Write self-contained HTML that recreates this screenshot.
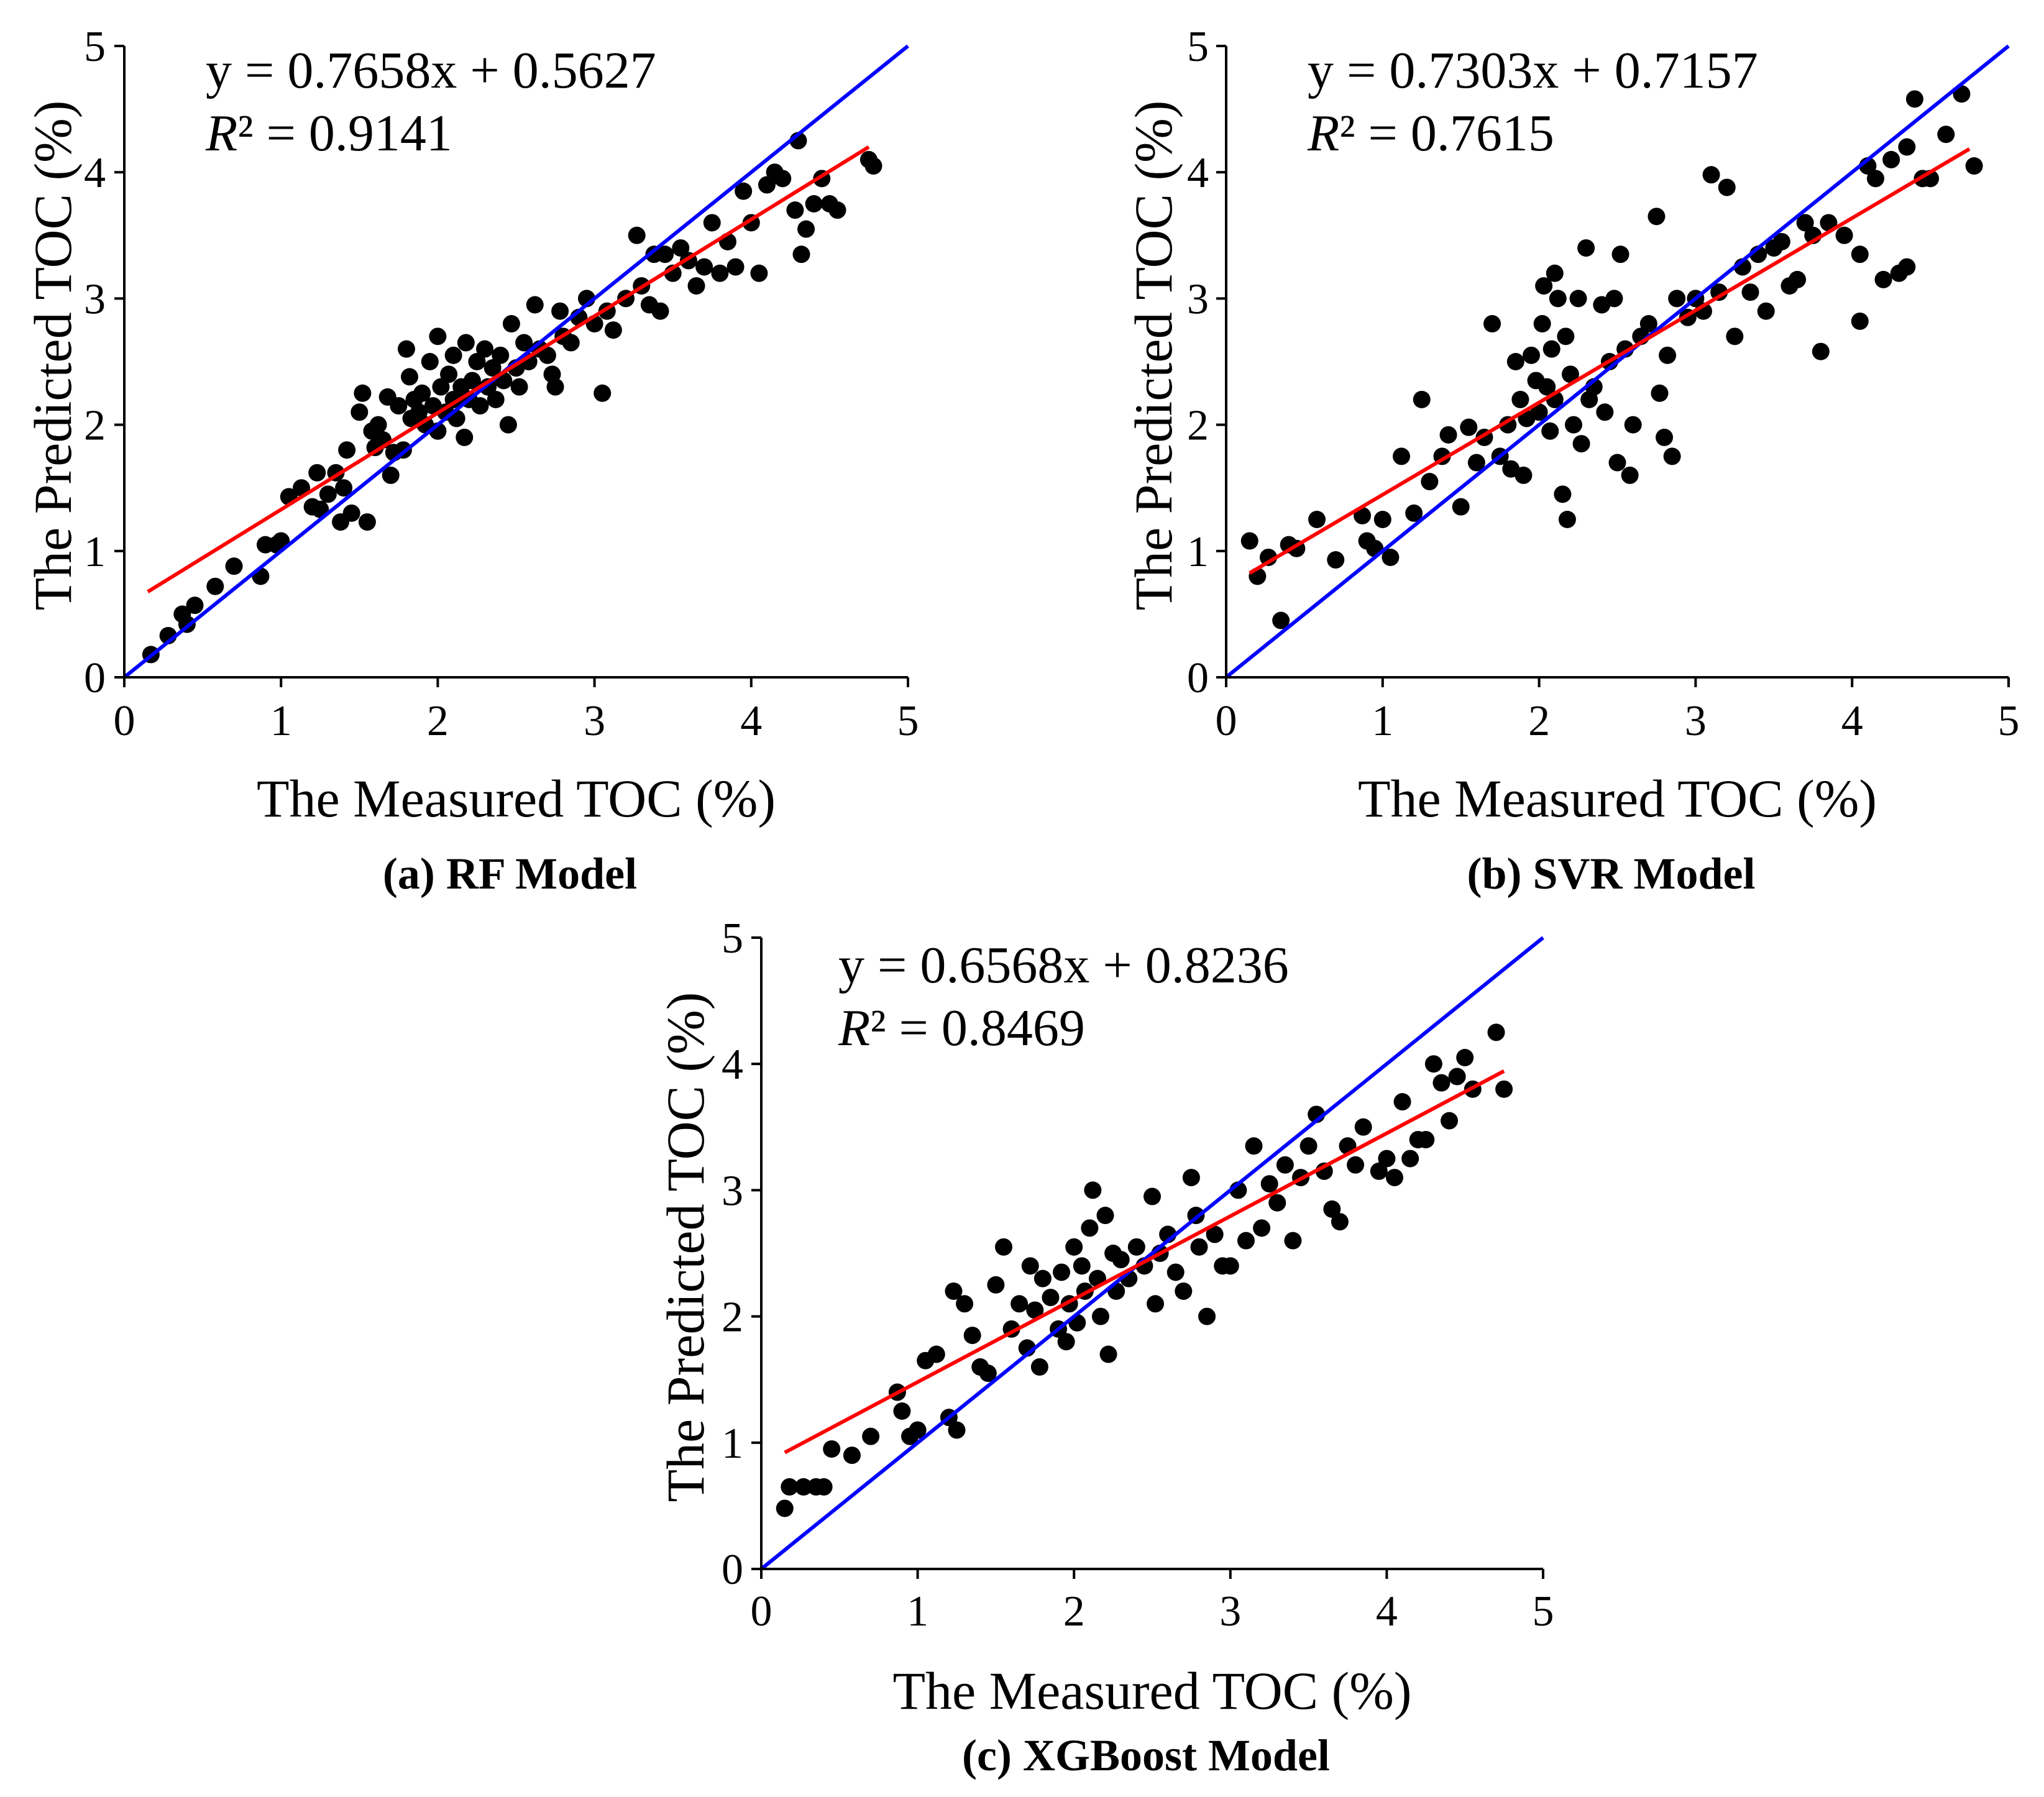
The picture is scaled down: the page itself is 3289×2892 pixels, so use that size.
<!DOCTYPE html>
<html><head><meta charset="utf-8">
<style>
html,body{margin:0;padding:0;background:#fff;}
svg{display:block;font-family:"Liberation Serif",serif;}
</style></head>
<body>
<svg id="fig" width="3289" height="2892" viewBox="0 0 3289 2892" xmlns="http://www.w3.org/2000/svg"></svg>
<script>
const ticks = [0,1,2,3,4,5];
const tickLabels = ["0","1","2","3","4","5"];
const panelIds = ["a","b","c"];
const captions = ["(a) RF Model","(b) SVR Model","(c) XGBoost Model"];
const equations = ["y = 0.7658x + 0.5627","y = 0.7303x + 0.7157","y = 0.6568x + 0.8236"];
const r2Values = ["0.9141","0.7615","0.8469"];
const slopes = [0.7658,0.7303,0.6568];
const intercepts = [0.5627,0.7157,0.8236];
const fitRange = [0.15,4.75];
const rfMeasured = [0.17,0.28,0.37,0.4,0.45,0.58,0.7,0.87,0.9,0.97,1.0,1.05,1.13,1.2,1.23,1.25,1.3,1.35,1.38,1.4,1.42,1.45,1.5,1.52,1.55,1.58,1.6,1.62,1.65,1.68,1.7,1.72,1.75,1.78,1.8,1.82,1.83,1.85,1.88,1.9,1.92,1.95,1.97,2.0,2.0,2.02,2.05,2.07,2.1,2.1,2.12,2.15,2.17,2.18,2.2,2.22,2.25,2.27,2.3,2.32,2.35,2.37,2.4,2.42,2.45,2.47,2.5,2.52,2.55,2.58,2.62,2.65,2.7,2.73,2.75,2.78,2.8,2.85,2.9,2.95,3.0,3.05,3.08,3.12,3.2,3.27,3.3,3.35,3.38,3.42,3.45,3.5,3.55,3.6,3.65,3.7,3.75,3.8,3.85,3.9,3.95,4.0,4.05,4.1,4.15,4.2,4.28,4.3,4.32,4.35,4.4,4.45,4.5,4.55,4.75,4.78];
const rfPredicted = [0.18,0.33,0.5,0.42,0.57,0.72,0.88,0.8,1.05,1.05,1.08,1.43,1.5,1.35,1.62,1.33,1.45,1.62,1.23,1.5,1.8,1.3,2.1,2.25,1.23,1.95,1.82,2.0,1.88,2.22,1.6,1.78,2.15,1.8,2.6,2.38,2.05,2.2,2.1,2.25,2.0,2.5,2.15,2.7,1.95,2.3,2.1,2.4,2.55,2.2,2.05,2.3,1.9,2.65,2.2,2.35,2.5,2.15,2.6,2.3,2.45,2.2,2.55,2.35,2.0,2.8,2.45,2.3,2.65,2.5,2.95,2.6,2.55,2.4,2.3,2.9,2.7,2.65,2.85,3.0,2.8,2.25,2.9,2.75,3.0,3.5,3.1,2.95,3.35,2.9,3.35,3.2,3.4,3.3,3.1,3.25,3.6,3.2,3.45,3.25,3.85,3.6,3.2,3.9,4.0,3.95,3.7,4.25,3.35,3.55,3.75,3.95,3.75,3.7,4.1,4.05];
const svrMeasured = [0.15,0.2,0.27,0.35,0.4,0.45,0.58,0.7,0.87,0.9,0.95,1.0,1.05,1.12,1.2,1.25,1.3,1.38,1.42,1.5,1.55,1.6,1.65,1.7,1.75,1.8,1.82,1.85,1.88,1.9,1.92,1.95,1.98,2.0,2.02,2.03,2.05,2.07,2.08,2.1,2.1,2.12,2.15,2.17,2.18,2.2,2.22,2.25,2.27,2.3,2.32,2.35,2.4,2.42,2.45,2.48,2.5,2.52,2.55,2.58,2.6,2.65,2.7,2.75,2.77,2.8,2.82,2.85,2.88,2.95,3.0,3.05,3.1,3.15,3.2,3.25,3.3,3.35,3.4,3.45,3.5,3.55,3.6,3.65,3.7,3.75,3.8,3.85,3.95,4.05,4.05,4.1,4.15,4.2,4.25,4.3,4.35,4.35,4.4,4.45,4.5,4.6,4.7,4.78];
const svrPredicted = [1.08,0.8,0.95,0.45,1.05,1.02,1.25,0.93,1.28,1.08,1.02,1.25,0.95,1.75,1.3,2.2,1.55,1.75,1.92,1.35,1.98,1.7,1.9,2.8,1.75,2.0,1.65,2.5,2.2,1.6,2.05,2.55,2.35,2.1,2.8,3.1,2.3,1.95,2.6,3.2,2.2,3.0,1.45,2.7,1.25,2.4,2.0,3.0,1.85,3.4,2.2,2.3,2.95,2.1,2.5,3.0,1.7,3.35,2.6,1.6,2.0,2.7,2.8,3.65,2.25,1.9,2.55,1.75,3.0,2.85,3.0,2.9,3.98,3.05,3.88,2.7,3.25,3.05,3.35,2.9,3.4,3.45,3.1,3.15,3.6,3.5,2.58,3.6,3.5,2.82,3.35,4.05,3.95,3.15,4.1,3.2,3.25,4.2,4.58,3.95,3.95,4.3,4.62,4.05];
const xgbMeasured = [0.15,0.18,0.27,0.35,0.4,0.45,0.58,0.7,0.87,0.9,0.95,1.0,1.05,1.12,1.2,1.23,1.25,1.3,1.35,1.4,1.45,1.5,1.55,1.6,1.65,1.7,1.72,1.75,1.78,1.8,1.85,1.9,1.92,1.95,1.97,2.0,2.02,2.05,2.07,2.1,2.12,2.15,2.17,2.2,2.22,2.25,2.27,2.3,2.35,2.4,2.45,2.5,2.52,2.55,2.6,2.65,2.7,2.75,2.78,2.8,2.85,2.9,2.95,3.0,3.05,3.1,3.15,3.2,3.25,3.3,3.35,3.4,3.45,3.5,3.55,3.6,3.65,3.7,3.75,3.8,3.85,3.95,4.0,4.05,4.1,4.15,4.2,4.25,4.3,4.35,4.4,4.45,4.5,4.55,4.7,4.75];
const xgbPredicted = [0.48,0.65,0.65,0.65,0.65,0.95,0.9,1.05,1.4,1.25,1.05,1.1,1.65,1.7,1.2,2.2,1.1,2.1,1.85,1.6,1.55,2.25,2.55,1.9,2.1,1.75,2.4,2.05,1.6,2.3,2.15,1.9,2.35,1.8,2.1,2.55,1.95,2.4,2.2,2.7,3.0,2.3,2.0,2.8,1.7,2.5,2.2,2.45,2.3,2.55,2.4,2.95,2.1,2.5,2.65,2.35,2.2,3.1,2.8,2.55,2.0,2.65,2.4,2.4,3.0,2.6,3.35,2.7,3.05,2.9,3.2,2.6,3.1,3.35,3.6,3.15,2.85,2.75,3.35,3.2,3.5,3.15,3.25,3.1,3.7,3.25,3.4,3.4,4.0,3.85,3.55,3.9,4.05,3.8,4.25,3.8];
const measuredSets = [rfMeasured, svrMeasured, xgbMeasured];
const predictedSets = [rfPredicted, svrPredicted, xgbPredicted];

const NS = "http://www.w3.org/2000/svg";
const svg = document.getElementById("fig");
const layouts = [
  {x0:200,x1:1461,y0:1090,y1:74, ytl:170, ytitle:84, xtick:1183, xtitle:1314, cap:1430, eqx:331, eqy:141, r2y:242},
  {x0:1973,x1:3232,y0:1090,y1:74, ytl:1945, ytitle:1855, xtick:1183, xtitle:1314, cap:1430, eqx:2104, eqy:141, r2y:242},
  {x0:1225,x1:2483,y0:2525,y1:1509, ytl:1196, ytitle:1102, xtick:2616, xtitle:2750, cap:2849, eqx:1349, eqy:1581, r2y:1682}
];
function mk(tag, attrs, parent){
  const e = document.createElementNS(NS, tag);
  for (const k in attrs) e.setAttribute(k, attrs[k]);
  parent.appendChild(e);
  return e;
}
panelIds.forEach((pid, i) => {
  const L = layouts[i];
  const sx = v => L.x0 + (L.x1 - L.x0) * v / 5;
  const sy = v => L.y0 + (L.y1 - L.y0) * v / 5;
  const g = mk("g", {}, svg);
  
  
  const pg = mk("g", {fill:"#000"}, g);
  
  
  const xs = measuredSets[i], ys = predictedSets[i];
  for (let k = 0; k < xs.length; k++) {
    const c = mk("circle", {cx:sx(xs[k]), cy:sy(ys[k]), r:14}, pg);
    
    
  }
  const ref = mk("line", {x1:sx(0), y1:sy(0), x2:sx(5), y2:sy(5), stroke:"#0000ff", "stroke-width":6}, g);
  
  
  const fa = fitRange[0], fb = fitRange[1];
  const fit = mk("line", {x1:sx(fa), y1:sy(slopes[i]*fa+intercepts[i]), x2:sx(fb), y2:sy(slopes[i]*fb+intercepts[i]), stroke:"#ff0000", "stroke-width":6}, g);
  
  
  const ax = mk("path", {d:`M${L.x0} ${L.y1} V${L.y0} H${L.x1}`, fill:"none", stroke:"#000", "stroke-width":4}, g);
  
  
  ticks.forEach((t, j) => {
    const tx = mk("line", {x1:sx(t), y1:L.y0, x2:sx(t), y2:L.y0+16, stroke:"#000", "stroke-width":4}, g);
    
    
    const ty = mk("line", {x1:L.x0-16, y1:sy(t), x2:L.x0, y2:sy(t), stroke:"#000", "stroke-width":4}, g);
    
    
    const xl = mk("text", {x:sx(t), y:L.xtick, "font-size":70, "text-anchor":"middle"}, g);
    xl.textContent = tickLabels[j];
    
    
    const yl = mk("text", {x:L.ytl, y:sy(t)+24, "font-size":70, "text-anchor":"end"}, g);
    yl.textContent = tickLabels[j];
    
    
  });
  const xt = mk("text", {x:(L.x0+L.x1)/2, y:L.xtitle, "font-size":86, "text-anchor":"middle"}, g);
  xt.textContent = "The Measured TOC (%)";
  
  
  const ycx = L.ytitle, ycy = (L.y0+L.y1)/2 - 10;
  const yt = mk("text", {x:ycx, y:ycy, "font-size":86, "text-anchor":"middle", transform:`rotate(-90 ${ycx} ${ycy})`, dy:"0.35em"}, g);
  yt.textContent = "The Predicted TOC (%)";
  
  
  const eq = mk("text", {x:L.eqx, y:L.eqy, "font-size":84}, g);
  eq.textContent = equations[i];
  
  
  const r2 = mk("text", {x:L.eqx, y:L.r2y, "font-size":84}, g);
  const it = mk("tspan", {"font-style":"italic"}, r2);
  it.textContent = "R";
  const rest = mk("tspan", {}, r2);
  rest.textContent = "² = " + r2Values[i];
  
  
  const cp = mk("text", {x:(L.x0+L.x1)/2 - 10, y:L.cap, "font-size":72, "font-weight":"bold", "text-anchor":"middle"}, g);
  cp.textContent = captions[i];
  
  
});
</script>
</body></html>
